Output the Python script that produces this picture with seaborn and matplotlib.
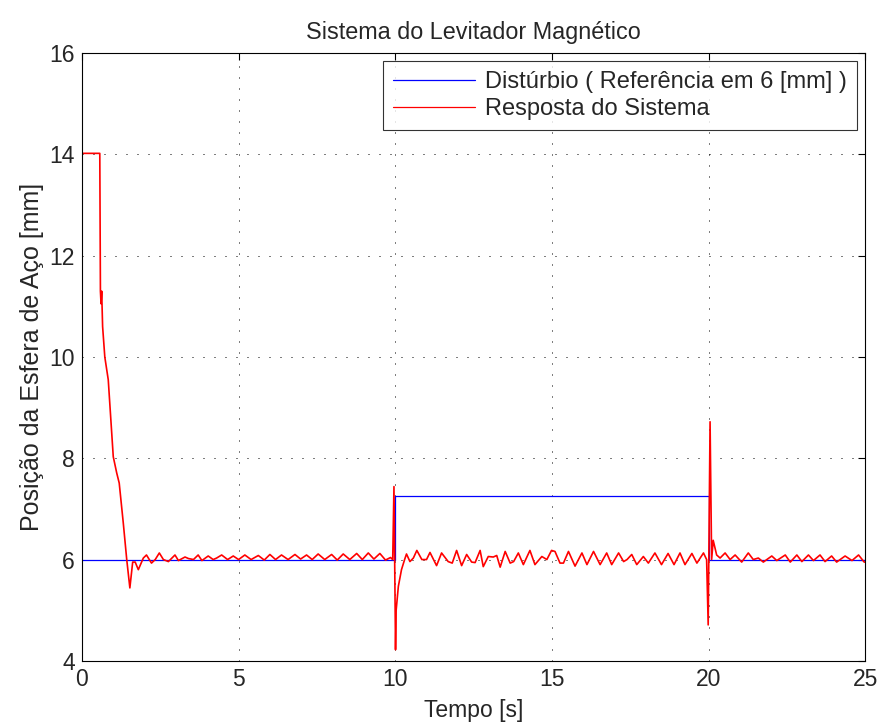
import pandas as pd
import matplotlib
matplotlib.use("Agg")
import matplotlib.pyplot as plt
import seaborn as sns

# --- dados ---
ref_t = [0, 10, 10, 20, 20, 25]
ref_v = [6.0, 6.0, 7.25, 7.25, 6.0, 6.0]

resp_t = [
    0.0, 0.57, 0.59, 0.61, 0.63, 0.66, 0.73, 0.84, 1.0, 1.11, 1.19, 1.32,
    1.43, 1.53, 1.62, 1.7, 1.8, 1.96, 2.06, 2.22, 2.34, 2.47, 2.6, 2.76,
    2.97, 3.08, 3.29, 3.4, 3.56, 3.71, 3.83, 4.03, 4.19, 4.3, 4.46, 4.65,
    4.83, 5.0, 5.2, 5.4, 5.63, 5.82, 6.0, 6.18, 6.37, 6.58, 6.8, 6.98,
    7.17, 7.35, 7.54, 7.75, 7.97, 8.15, 8.34, 8.55, 8.77, 8.95, 9.14, 9.32,
    9.51, 9.69, 9.85, 9.92, 9.96, 10.01, 10.03, 10.05, 10.1, 10.2, 10.3,
    10.36, 10.47, 10.58, 10.69, 10.85, 11.0, 11.11, 11.32, 11.48, 11.69,
    11.82, 11.96, 12.12, 12.28, 12.44, 12.55, 12.71, 12.81, 12.97, 13.13,
    13.24, 13.35, 13.51, 13.67, 13.78, 13.93, 14.09, 14.3, 14.46, 14.68,
    14.84, 14.99, 15.1, 15.26, 15.37, 15.53, 15.74, 15.96, 16.12, 16.33,
    16.54, 16.75, 16.91, 17.13, 17.29, 17.4, 17.55, 17.71, 17.92, 18.08,
    18.29, 18.5, 18.71, 18.9, 19.09, 19.25, 19.47, 19.63, 19.84, 19.94,
    19.99, 20.05, 20.1, 20.15, 20.26, 20.37, 20.53, 20.69, 20.85, 21.06,
    21.27, 21.43, 21.59, 21.75, 22.02, 22.18, 22.45, 22.61, 22.82, 22.98,
    23.19, 23.35, 23.56, 23.72, 23.93, 24.09, 24.36, 24.58, 24.79, 24.97,
    25.0,
]
resp_v = [
    14.02, 14.02, 11.3, 11.05, 11.3, 10.6, 10.0, 9.55, 8.03, 7.71, 7.51, 6.72,
    6.0, 5.44, 5.95, 5.95, 5.8, 6.03, 6.09, 5.93, 6.0, 6.13, 6.0, 5.96,
    6.09, 5.98, 6.05, 6.02, 6.0, 6.09, 5.98, 6.07, 6.0, 6.03, 6.09, 6.0,
    6.07, 6.0, 6.09, 6.0, 6.08, 5.99, 6.1, 6.0, 6.09, 6.0, 6.1, 6.01,
    6.09, 6.0, 6.11, 6.0, 6.1, 5.99, 6.11, 6.0, 6.12, 6.0, 6.13, 6.01,
    6.12, 5.99, 6.04, 6.0, 7.44, 4.22, 5.0, 5.14, 5.47, 5.8, 6.0,
    6.11, 5.96, 6.03, 6.18, 6.0, 6.0, 6.14, 5.88, 6.13, 5.96,
    5.93, 6.18, 5.88, 6.1, 5.95, 5.94, 6.18, 5.86, 6.06, 6.05,
    6.08, 5.85, 6.16, 5.93, 5.96, 6.13, 5.9, 6.18, 5.9, 6.06,
    6.0, 6.18, 6.16, 5.93, 5.93, 6.16, 5.87, 6.13, 5.9, 6.16,
    5.9, 6.13, 5.9, 6.13, 5.96, 6.0, 6.1, 5.9, 6.06, 5.93,
    6.13, 5.9, 6.12, 5.9, 6.13, 5.9, 6.12, 5.93, 6.13, 6.0,
    4.71, 8.72, 6.0, 6.38, 6.09, 6.03, 6.13, 6.0, 6.09, 5.95,
    6.13, 6.0, 6.03, 5.95, 6.07, 5.98, 6.09, 5.95, 6.09, 5.96,
    6.09, 5.98, 6.09, 5.96, 6.07, 5.95, 6.07, 5.98, 6.09, 5.95,
    5.95,
]

ref_df = pd.DataFrame({"t": ref_t, "v": ref_v})
resp_df = pd.DataFrame({"t": resp_t, "v": resp_v})

sns.set_theme(style="white")
plt.rcParams['font.family'] = ['Liberation Sans', 'DejaVu Sans']

fig = plt.figure(figsize=(8.81, 7.27), dpi=100)
ax = fig.add_axes([0.093, 0.091, 0.889, 0.836])

sns.lineplot(data=ref_df, x="t", y="v", color="#0000ff", linewidth=0.9,
             sort=False, estimator=None, ax=ax,
             label="Distúrbio ( Referência em 6 [mm] )")
sns.lineplot(data=resp_df, x="t", y="v", color="#ff0000", linewidth=1.2,
             sort=False, estimator=None, ax=ax,
             label="Resposta do Sistema")

ax.set_xlim(0, 25)
ax.set_ylim(4, 16)
ax.set_xticks(range(0, 26, 5))
ax.set_yticks(range(4, 17, 2))
ax.grid(True, color="black", linewidth=0.72, linestyle=(0, (1, 10)))
ax.tick_params(direction="in", top=True, right=True, length=5, width=0.8,
               labelsize=16.5, color="black", pad=5)
for s in ax.spines.values():
    s.set_color("black")
    s.set_linewidth(0.8)

ax.set_title("Sistema do Levitador Magnético", fontsize=16.8, pad=10)
ax.set_xlabel("Tempo [s]", fontsize=16.5, labelpad=6)
ax.set_ylabel("Posição da Esfera de Aço [mm]", fontsize=18, labelpad=4)

leg = ax.legend(loc="upper right", fontsize=17, frameon=True, fancybox=False,
                handlelength=3.5, handletextpad=0.42, borderaxespad=0.35,
                borderpad=0.42, labelspacing=0.2)
leg.get_frame().set_edgecolor("black")
leg.get_frame().set_linewidth(0.8)
for line in leg.get_lines():
    line.set_linewidth(0.9)

fig.savefig("out.png", dpi=100)
